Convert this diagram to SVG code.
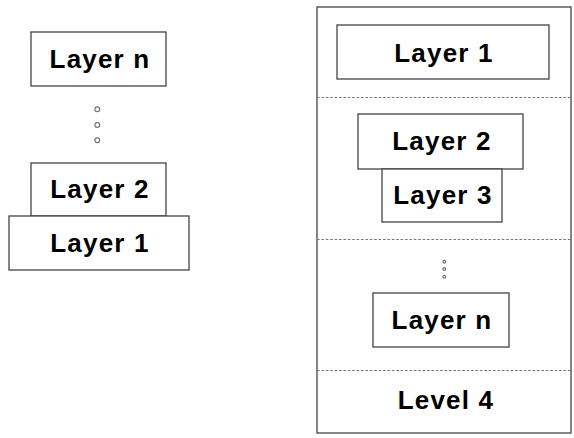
<svg xmlns="http://www.w3.org/2000/svg" width="574" height="438" viewBox="0 0 574 438">
<style>
.box{fill:#fff;stroke:#444;stroke-width:1.3}
.lbl{font-family:"Liberation Sans",Arial,sans-serif;font-weight:bold;font-size:26px;letter-spacing:1.2px;fill:#000;text-anchor:middle}
.sep{stroke:#777;stroke-width:1.2;stroke-dasharray:2.6 1.8;fill:none}
.dot{fill:#fff;stroke:#777;stroke-width:1.2}
</style>
<rect width="574" height="438" fill="#fff"/>
<g id="left-stack">
  <g id="left-layer-n"><rect class="box" x="31" y="32" width="135" height="54"/><text class="lbl" x="100" y="67.5">Layer n</text></g>
  <g id="left-dots"><circle class="dot" cx="97.3" cy="109.3" r="2.4"/><circle class="dot" cx="97.3" cy="125" r="2.4"/><circle class="dot" cx="97.3" cy="140.3" r="2.4"/></g>
  <g id="left-layer-2"><rect class="box" x="31" y="163" width="135" height="53"/><text class="lbl" x="100" y="197.5">Layer 2</text></g>
  <g id="left-layer-1"><rect class="box" x="9" y="216" width="180" height="54"/><text class="lbl" x="100" y="251.5">Layer 1</text></g>
</g>
<g id="right-stack">
  <rect class="box" x="317" y="7" width="254" height="426"/>
  <g id="separators">
    <line class="sep" x1="317" y1="97.5" x2="571" y2="97.5"/>
    <line class="sep" x1="317" y1="239.5" x2="571" y2="239.5"/>
    <line class="sep" x1="317" y1="370.5" x2="571" y2="370.5"/>
  </g>
  <g id="right-layer-1"><rect class="box" x="337" y="25" width="212" height="54"/><text class="lbl" x="444" y="61.5">Layer 1</text></g>
  <g id="right-layer-2"><rect class="box" x="358" y="114" width="165" height="55"/><text class="lbl" x="442" y="149.5">Layer 2</text></g>
  <g id="right-layer-3"><rect class="box" x="382" y="169" width="120" height="53"/><text class="lbl" x="443" y="204">Layer 3</text></g>
  <g id="right-dots"><circle class="dot" cx="444.3" cy="261.7" r="1.4"/><circle class="dot" cx="444.3" cy="269" r="1.4"/><circle class="dot" cx="444.3" cy="276.7" r="1.4"/></g>
  <g id="right-layer-n"><rect class="box" x="373" y="293" width="136" height="54"/><text class="lbl" x="442" y="328.5">Layer n</text></g>
  <g id="level-4"><text class="lbl" x="446" y="409">Level 4</text></g>
</g>
</svg>
